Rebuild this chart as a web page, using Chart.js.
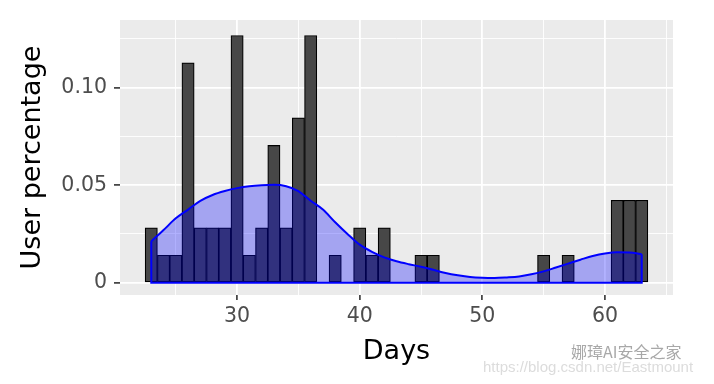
<!DOCTYPE html>
<html>
<head>
<meta charset="utf-8">
<script src="https://cdn.jsdelivr.net/npm/chart.js@4/dist/chart.umd.min.js"></script>
<style>
  html, body { margin: 0; padding: 0; background: #ffffff; }
  #wrap { width: 714px; height: 384px; position: relative; }
</style>
</head>
<body>
<div id="wrap"><canvas id="c" width="714" height="384"></canvas></div>
<script>
// ---- data ----
const histDays   = [23, 24, 25, 26, 27, 28, 29, 30, 31, 32, 33, 34, 35, 36, 38, 40, 41, 42, 45, 46, 55, 57, 61, 62, 63];
const histCounts = [ 2,  1,  1,  8,  2,  2,  2,  9,  1,  2,  5,  2,  6,  9,  1,  2,  1,  2,  1,  1,  1,  1,  3,  3,  3];

const densDays = [23, 24, 25, 26, 27, 28, 29, 30, 31, 32, 33, 34, 35, 36, 37, 38, 39, 40, 41, 42, 43,
                  44, 45, 46, 47, 48, 49, 50, 51, 52, 53, 54, 55, 56, 57, 58, 59, 60, 61, 62, 63];
const densVals = [0.0212, 0.0270, 0.0330, 0.0375, 0.0420, 0.0450, 0.0470, 0.0485, 0.0495, 0.0500, 0.0502,
                  0.0495, 0.0470, 0.0420, 0.0375, 0.0310, 0.0250, 0.0195, 0.0158, 0.0130, 0.0110,
                  0.0095, 0.0082, 0.0066, 0.0050, 0.0038, 0.0029, 0.0025, 0.0024, 0.0027, 0.0032,
                  0.0043, 0.0058, 0.0078, 0.0098, 0.0118, 0.0137, 0.0150, 0.0156, 0.0155, 0.0146];

const xTickValues = [25, 30, 35, 40, 45, 50, 55, 60, 65];
const xTickLabels = ['', '30', '', '40', '', '50', '', '60', ''];
const yTickValues = [0, 0.025, 0.05, 0.075, 0.10, 0.125];
const yTickLabels = ['0', '', '0.05', '', '0.10', ''];

const xTitle = 'Days';
const yTitle = 'User percentage';
const watermark1 = '娜璋AI安全之家';
const watermark2 = 'https://blog.csdn.net/Eastmount';

// ---- build datasets ----
const total = histCounts.reduce((a, b) => a + b, 0);
const histPoints = histDays.map((d, i) => ({ x: d, y: histCounts[i] / total }));
const densPoints = densDays.map((d, i) => ({ x: d, y: densVals[i] }));
const first = densPoints[0], last = densPoints[densPoints.length - 1];
const outlinePoints = [
  { x: first.x, y: first.y }, { x: first.x, y: 0 },
  { x: last.x, y: 0 }, { x: last.x, y: last.y }
];

const FONT = "'DejaVu Sans', sans-serif";

const panelBg = {
  id: 'panelBg',
  beforeDraw(chart) {
    const { ctx, chartArea: a } = chart;
    ctx.save();
    ctx.fillStyle = '#EBEBEB';
    ctx.fillRect(a.left, a.top, a.right - a.left, a.bottom - a.top);
    ctx.restore();
  }
};

const watermark = {
  id: 'watermark',
  afterDraw(chart) {
    const ctx = chart.ctx;
    ctx.save();
    ctx.textBaseline = 'middle';
    ctx.fillStyle = '#dcdcdc';
    ctx.font = "15px 'Liberation Sans', sans-serif";
    ctx.fillText(watermark2, 483, 368);
    ctx.fillStyle = '#a8a8a8';
    ctx.font = "16px 'Noto Sans CJK SC', sans-serif";
    ctx.fillText(watermark1, 571, 352);
    ctx.restore();
  }
};

const isMajorIdx = (vals, labels) => (ctx) => {
  const v = ctx.tick ? ctx.tick.value : null;
  const i = vals.findIndex(t => Math.abs(t - v) < 1e-9);
  return i >= 0 && labels[i] !== '';
};
const xMajor = isMajorIdx(xTickValues, xTickLabels);
const yMajor = isMajorIdx(yTickValues, yTickLabels);

new Chart(document.getElementById('c'), {
  data: {
    datasets: [
      {
        type: 'line',
        data: outlinePoints,
        borderColor: '#0000FF',
        borderWidth: 2,
        pointRadius: 0,
        fill: false,
        tension: 0,
        order: 0
      },
      {
        type: 'line',
        data: densPoints,
        borderColor: '#0000FF',
        borderWidth: 2,
        backgroundColor: 'rgba(0,0,255,0.3)',
        pointRadius: 0,
        fill: 'origin',
        cubicInterpolationMode: 'monotone',
        order: 1
      },
      {
        type: 'bar',
        data: histPoints,
        backgroundColor: '#474747',
        borderColor: '#000000',
        borderWidth: 1.2,
        borderSkipped: false,
        barPercentage: 1,
        categoryPercentage: 1,
        grouped: false,
        order: 2
      }
    ]
  },
  options: {
    responsive: false,
    animation: false,
    events: [],
    layout: { padding: { top: 20, right: 41, left: 0, bottom: 0 } },
    plugins: { legend: { display: false }, tooltip: { enabled: false } },
    scales: {
      x: {
        type: 'linear',
        offset: false,
        min: 20.45,
        max: 65.55,
        afterBuildTicks: (s) => { s.ticks = xTickValues.map(v => ({ value: v })); },
        afterFit: (s) => { s.height = 89; },
        border: { display: false },
        grid: {
          offset: false,
          color: '#FFFFFF',
          lineWidth: (c) => xMajor(c) ? 1.8 : 0.9,
          tickColor: (c) => xMajor(c) ? '#333333' : 'rgba(0,0,0,0)',
          tickWidth: 1.6,
          tickLength: 5,
          drawTicks: true
        },
        ticks: {
          autoSkip: false,
          maxRotation: 0,
          padding: 4,
          color: '#4D4D4D',
          font: { family: FONT, size: 20.5 },
          callback: (v) => {
            const i = xTickValues.findIndex(t => Math.abs(t - v) < 1e-9);
            return i >= 0 ? xTickLabels[i] : '';
          }
        },
        title: {
          display: true,
          text: xTitle,
          color: '#000000',
          font: { family: FONT, size: 27 },
          padding: { top: 0, bottom: 16 }
        }
      },
      y: {
        type: 'linear',
        min: -0.0063,
        max: 0.1347,
        afterBuildTicks: (s) => { s.ticks = yTickValues.map(v => ({ value: v })); },
        afterFit: (s) => { s.width = 120; },
        border: { display: false },
        grid: {
          color: '#FFFFFF',
          lineWidth: (c) => yMajor(c) ? 1.8 : 0.9,
          tickColor: (c) => yMajor(c) ? '#333333' : 'rgba(0,0,0,0)',
          tickWidth: 1.6,
          tickLength: 6,
          drawTicks: true
        },
        ticks: {
          autoSkip: false,
          padding: 7,
          color: '#4D4D4D',
          font: { family: FONT, size: 20.5 },
          callback: (v) => {
            const i = yTickValues.findIndex(t => Math.abs(t - v) < 1e-9);
            return i >= 0 ? yTickLabels[i] : '';
          }
        },
        title: {
          display: true,
          text: yTitle,
          color: '#000000',
          font: { family: FONT, size: 27 },
          padding: { top: 17, bottom: 0 }
        }
      }
    }
  },
  plugins: [panelBg, watermark]
});
</script>
</body>
</html>
